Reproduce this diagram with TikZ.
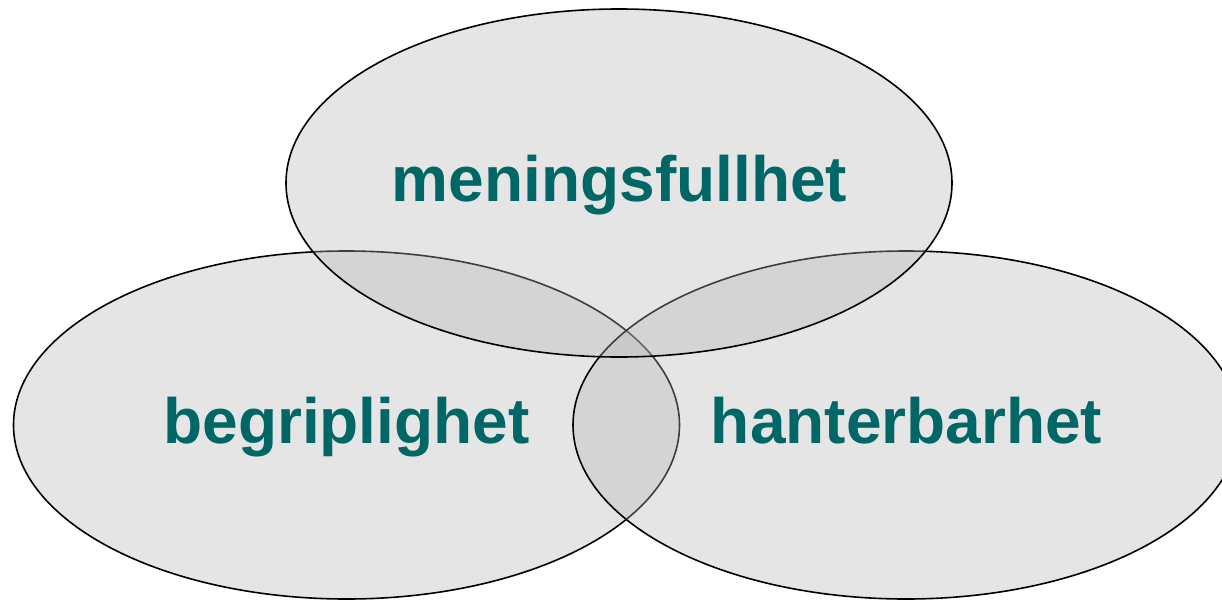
\documentclass[tikz,border=0pt]{standalone}
\usepackage{fontspec}
\setmainfont{Liberation Sans}
\usetikzlibrary{shapes.geometric}
\definecolor{labelteal}{HTML}{006666}
\definecolor{setfill}{HTML}{B4B4B4}
\tikzset{
  setellipse/.style={ellipse, draw=black, line width=1.6pt, fill=setfill,
    fill opacity=0.35, minimum width=666pt, minimum height=348pt, inner sep=0pt},
  setlabel/.style={anchor=base, text=labelteal, inner sep=0pt,
    font=\fontsize{64}{70}\selectfont\bfseries}
}
\begin{document}
\begin{tikzpicture}[x=1pt,y=-1pt]
  \useasboundingbox (0,0) rectangle (1222,599);
  % the three overlapping sets, drawn left, right, then top
  \node[setellipse] (begr) at (346.5,425) {};
  \node[setellipse] (hant) at (906,425) {};
  \node[setellipse] (men) at (619,183) {};
  % set names
  \node[setlabel] (menlabel) at (619.5,201) {meningsfullhet};
  \node[setlabel] (begrlabel) at (346.5,443) {begriplighet};
  \node[setlabel] (hantlabel) at (906.5,443) {hanterbarhet};
\end{tikzpicture}
\end{document}
